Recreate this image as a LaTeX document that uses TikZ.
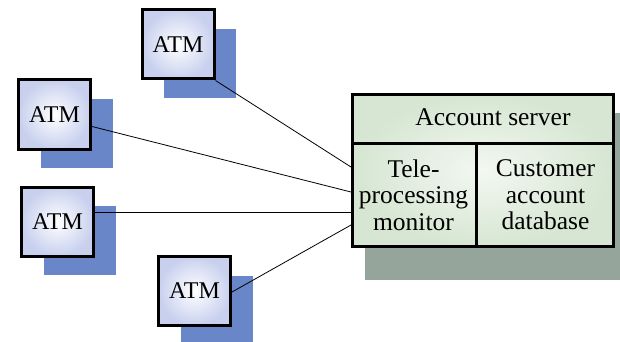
\documentclass[tikz,border=0pt]{standalone}
\usepackage{fontspec}
\setmainfont{LiberationSerif}[Extension=.ttf, UprightFont=*-Regular]
\usetikzlibrary{shadows}
\definecolor{atmfill}{RGB}{200,208,238}
\definecolor{atmshade}{RGB}{104,134,200}
\definecolor{srvfill}{RGB}{214,230,210}
\definecolor{srvshade}{RGB}{150,165,155}
\tikzset{
  atm/.style={draw, line width=3pt, minimum width=72pt, minimum height=69pt,
    inner color=white, outer color=atmfill,
    drop shadow={shadow xshift=22pt, shadow yshift=-19pt, fill=atmshade, opacity=1},
    font=\rmfamily\fontsize{24}{26}\selectfont},
  srvbox/.style={draw, line width=3pt, minimum width=261pt, minimum height=152pt,
    inner color=srvfill!30!white, outer color=srvfill},
  srvtext/.style={align=center, inner sep=0pt, font=\rmfamily\fontsize{25.5}{26.5}\selectfont},
  link/.style={line width=0.8pt}
}
\begin{document}
\begin{tikzpicture}[x=1pt,y=-1pt]
\useasboundingbox (0,0) rectangle (620,342);
% server shadow sits a bit lower and wider than the box
\fill[srvshade] (365,113) rectangle (622,280);
\node[srvbox] (srv) at (483,170.5) {};
\draw[line width=3pt] (351,143) -- (615,143) (476,143) -- (476,248);
\node[srvtext] (acct) at (493,117) {Account server};
\node[srvtext] (tpm) at (413.5,195) {Tele-\\processing\\monitor};
\node[srvtext] (cad) at (545.5,195) {Customer\\account\\database};
% the four terminals
\node[atm] (atm1) at (178,44.5) {ATM};
\node[atm] (atm2) at (54.5,114.5) {ATM};
\node[atm] (atm3) at (57.5,221.5) {ATM};
\node[atm] (atm4) at (194.5,291) {ATM};
\coordinate (in1) at (351,167);
\coordinate (in2) at (351,192);
\coordinate (in3) at (351,212);
\coordinate (in4) at (351,225);
\path[link]
  (atm1.south east) edge (in1)
  ([yshift=-12pt]atm2.east) edge (in2)
  ([yshift=9.5pt]atm3.east) edge (in3)
  ([yshift=-1pt]atm4.east) edge (in4)
;
\end{tikzpicture}
\end{document}
